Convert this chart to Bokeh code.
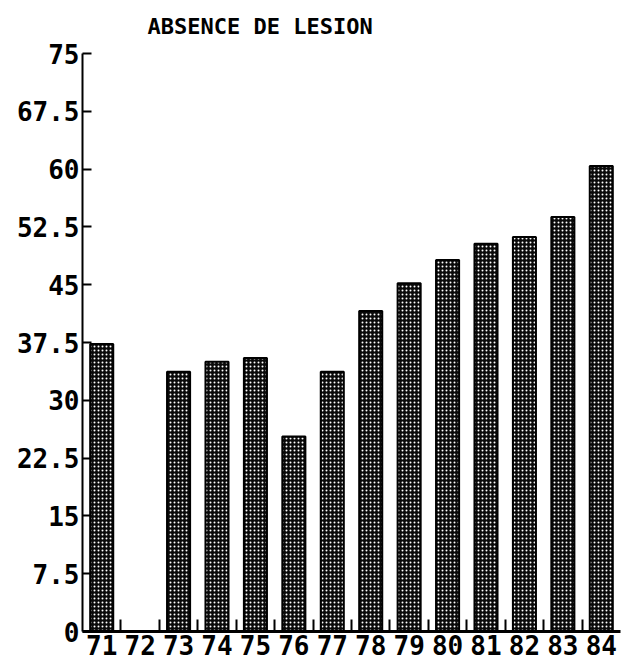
from bokeh.plotting import figure
from bokeh.models import FixedTicker, Range1d, ColumnDataSource
from bokeh.embed import file_html
from bokeh.resources import INLINE

years = ["71", "72", "73", "74", "75", "76", "77", "78", "79", "80", "81", "82", "83", "84"]
values = [37.3, 0, 33.7, 35.0, 35.5, 25.3, 33.7, 41.6, 45.2, 48.2, 50.3, 51.2, 53.8, 60.4]
y_ticks = [0, 7.5, 15, 22.5, 30, 37.5, 45, 52.5, 60, 67.5, 75]
y_tick_labels = ["0", "7.5", "15", "22.5", "30", "37.5", "45", "52.5", "60", "67.5", "75"]
title_text = "ABSENCE DE LESION"

pos = list(range(len(years)))
src = ColumnDataSource(dict(x=pos, top=values))

FONT = "DejaVu Sans Mono"

p = figure(frame_width=538, frame_height=578, width=628, height=666,
           min_border_left=82, min_border_right=8, min_border_top=53, min_border_bottom=35,
           output_backend="svg", toolbar_location=None,
           x_range=Range1d(-0.5, len(years) - 0.5), y_range=Range1d(0, 75))

p.vbar(x="x", top="top", width=0.6, source=src, fill_color="#0a0a0a",
       line_color="black", line_width=2,
       hatch_pattern="dot", hatch_color="white", hatch_scale=4, hatch_weight=2)

p.title.text = title_text
p.title.text_font = FONT
p.title.text_font_size = "22px"
p.title.text_font_style = "bold"
p.title.text_color = "black"
p.title.align = "left"
p.title.offset = 65
p.title.standoff = 26
p.title.vertical_align = "top"

p.grid.visible = False
p.outline_line_color = None
p.background_fill_color = "white"
p.border_fill_color = "white"

xa = p.xaxis[0]
xa.ticker = FixedTicker(ticks=pos, minor_ticks=[i + 0.5 for i in range(len(years) - 1)])
xa.major_label_overrides = {i: y for i, y in zip(pos, years)}
xa.major_tick_in = 0
xa.major_tick_out = 0
xa.minor_tick_in = 12
xa.minor_tick_out = 0
xa.minor_tick_line_width = 2
xa.minor_tick_line_color = "black"
xa.axis_line_width = 3
xa.axis_line_color = "black"
xa.major_label_text_font = FONT
xa.major_label_text_font_size = "26px"
xa.major_label_text_font_style = "bold"
xa.major_label_text_color = "black"
xa.major_label_standoff = 3

ya = p.yaxis[0]
ya.ticker = FixedTicker(ticks=y_ticks)
ya.major_label_overrides = {t: l for t, l in zip(y_ticks, y_tick_labels)}
ya.major_tick_in = 9
ya.major_tick_out = 0
ya.major_tick_line_width = 2
ya.minor_tick_in = 0
ya.minor_tick_out = 0
ya.axis_line_width = 2
ya.axis_line_color = "black"
ya.major_label_text_font = FONT
ya.major_label_text_font_size = "26px"
ya.major_label_text_font_style = "bold"
ya.major_label_text_color = "black"
ya.major_label_standoff = 3

open("out.html", "w").write(file_html(p, INLINE))
